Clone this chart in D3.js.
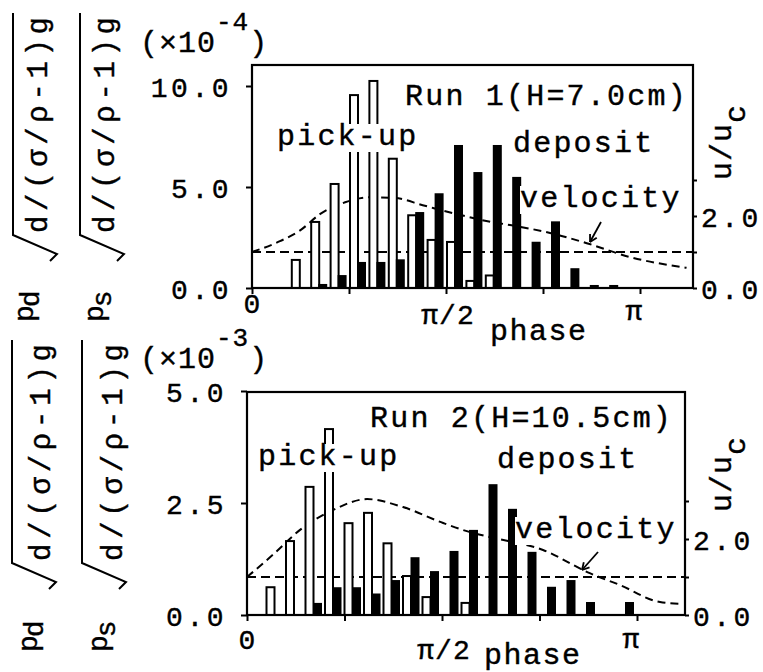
<!DOCTYPE html>
<html><head><meta charset="utf-8">
<script src="https://cdn.jsdelivr.net/npm/d3@7"></script>
<style>
body{margin:0;background:#fff}
svg{display:block}
text{font-family:"Liberation Mono","Courier New",monospace;fill:#000;stroke:#000;stroke-width:0.4}
</style>
</head><body>
<svg id="c" width="763" height="672"></svg>
<script>
// ---------- data ----------
// phase bins: phase = k/20 (in units of pi), k = 0..19
const binIndex = d3.range(20);
const run1Pickup  = [0, 0, 1.39, 3.27, 5.15, 9.55, 10.25, 6.4, 3.6, 2.38, 2.28, 0.35, 0.62, 0, 0, 0, 0, 0, 0, 0];
const run1Deposit = [0, 0, 0, 0.2, 0.64, 1.29, 1.29, 1.42, 3.76, 4.69, 7.08, 5.74, 7.08, 5.5, 2.29, 3.3, 0.98, 0.15, 0.15, 0];
const run2Pickup  = [0, 0.62, 1.65, 2.86, 4.15, 2.05, 2.28, 1.6, 0.87, 0.4, 0, 0.27, 0, 0, 0, 0, 0, 0, 0, 0];
const run2Deposit = [0, 0, 0, 0.27, 0.62, 0.62, 0.48, 0.78, 1.29, 0.98, 1.43, 1.9, 2.92, 2.37, 1.41, 0.63, 0.78, 0.29, 0, 0.29];
// velocity u/uc along phase (units of pi)
const run1VelPhase = [0, 0.072, 0.124, 0.175, 0.24, 0.304, 0.369, 0.44, 0.518, 0.619, 0.665, 0.79, 0.87, 0.974, 1.12];
const run1Vel      = [1.0, 1.3, 1.6, 2.05, 2.38, 2.52, 2.5, 2.3, 2.08, 1.83, 1.75, 1.47, 1.22, 0.86, 0.56];
const run2VelPhase = [0, 0.068, 0.136, 0.22, 0.308, 0.40, 0.503, 0.572, 0.623, 0.759, 0.879, 0.956, 1.059, 1.118];
const run2Vel      = [1.0, 1.6, 2.24, 2.76, 3.05, 2.84, 2.42, 2.18, 2.05, 1.71, 1.1, 0.79, 0.34, 0.29];
const criticalU = 1.0;
// ticks
const xTicks = [0, 0.25, 0.5, 0.75, 1];
const run1YTicks = [0, 5, 10];
const run1YLabels = ["0.0", "5.0", "10.0"];
const run2YTicks = [0, 2.5, 5];
const run2YLabels = ["0.0", "2.5", "5.0"];
const uTicks = [0, 1, 2, 3];
const uLabels = ["0.0", "", "2.0", ""];

const svg = d3.select("#c");

function knockoutText(g, x, y, str, opts = {}) {
  const t = g.append("text").attr("x", x).attr("y", y).text(str)
    .attr("font-size", opts.size || 30).attr("letter-spacing", opts.ls ?? 2.2);
  if (opts.bg) {
    const b = t.node().getBBox();
    g.insert("rect", () => t.node()).attr("x", b.x).attr("y", b.y + 4)
      .attr("width", b.width).attr("height", b.height - 6).attr("fill", "#fff");
  }
  return t;
}

function panel(o) {
  const g = svg.append("g");
  const x = d3.scaleLinear().domain([0, 1]).range([o.x0, o.xPi]);
  const y = d3.scaleLinear().domain([0, o.yMax]).range([o.yB, o.yMaxPx]);
  const yr = d3.scaleLinear().domain([0, 1]).range([o.yB, o.yB - o.uPx]);

  // critical velocity line
  g.append("line").attr("x1", o.x0).attr("x2", o.xR)
    .attr("y1", yr(criticalU)).attr("y2", yr(criticalU))
    .attr("stroke", "#000").attr("stroke-width", 2).attr("stroke-dasharray", "9,5");
  // velocity curve
  const pts = o.velPhase.map((p, i) => ({ p, u: o.vel[i] }));
  g.append("path")
    .attr("d", d3.line().x(d => x(d.p)).y(d => yr(d.u)).curve(d3.curveMonotoneX)(pts))
    .attr("fill", "none").attr("stroke", "#000").attr("stroke-width", 2)
    .attr("stroke-dasharray", "8,5");

  // pick-up (open) bars
  g.selectAll("rect.open").data(binIndex.filter(k => o.pick[k] > 0)).join("rect")
    .attr("class", "open")
    .attr("x", k => x(k / 20) + o.openOff).attr("width", 8)
    .attr("y", k => y(o.pick[k])).attr("height", k => o.yB - y(o.pick[k]))
    .attr("fill", "#fff").attr("stroke", "#000").attr("stroke-width", 2);
  // deposit (filled) bars
  g.selectAll("rect.fill").data(binIndex.filter(k => o.dep[k] > 0)).join("rect")
    .attr("class", "fill")
    .attr("x", k => x(k / 20) + o.fillOff).attr("width", 9)
    .attr("y", k => y(o.dep[k])).attr("height", k => o.yB - y(o.dep[k]))
    .attr("fill", "#000");

  // frame
  g.append("rect").attr("x", o.x0).attr("y", o.yT).attr("width", o.xR - o.x0)
    .attr("height", o.yB - o.yT).attr("fill", "none").attr("stroke", "#000").attr("stroke-width", 2.2);

  // axes ticks
  const ax = g.append("g").attr("transform", `translate(0,${o.yB})`)
    .call(d3.axisBottom(x).tickValues(xTicks).tickSize(6).tickFormat(""));
  ax.select(".domain").remove();
  const ay = g.append("g").attr("transform", `translate(${o.x0},0)`)
    .call(d3.axisLeft(y).tickValues(o.yTicks).tickSize(6).tickPadding(14)
      .tickFormat((d, i) => o.yLabels[i]));
  ay.select(".domain").remove();
  ay.selectAll("text").attr("font-size", 28).attr("letter-spacing", 3.5)
    .attr("font-family", '"Liberation Mono",monospace').attr("dy", "0.36em");
  const ar = g.append("g").attr("transform", `translate(${o.xR},0)`)
    .call(d3.axisRight(yr).tickValues(uTicks).tickSize(4).tickPadding(4)
      .tickFormat((d, i) => uLabels[i]));
  ar.select(".domain").remove();
  ar.selectAll("text").attr("font-size", 28).attr("letter-spacing", 3.5)
    .attr("font-family", '"Liberation Mono",monospace').attr("dy", "0.36em");
  g.selectAll(".tick line").attr("stroke-width", 2);

  // x labels
  g.append("text").attr("x", x(0)).attr("y", o.yB + o.lab0).attr("text-anchor", "middle")
    .attr("font-size", 28).text("0");
  g.append("text").attr("x", x(0.5) + 2).attr("y", o.yB + o.labHalf).attr("text-anchor", "middle")
    .attr("font-size", 28).attr("letter-spacing", 1).text("π/2");
  g.append("text").attr("x", x(1) - 6).attr("y", o.yB + o.labPi).attr("text-anchor", "middle")
    .attr("font-size", 28).text("π");
  g.append("text").attr("x", o.phaseX).attr("y", o.yB + o.labPhase)
    .attr("font-size", 30).attr("letter-spacing", 1.5).text("phase");

  // annotations
  knockoutText(g, o.runX, o.runY, o.runText, { bg: true });
  knockoutText(g, o.pickX, o.pickY, "pick-up", { bg: true });
  knockoutText(g, o.depX, o.depY, "deposit", {});
  knockoutText(g, o.velX, o.velY, "velocity", { bg: true });
  // arrow
  const [ax1, ay1, ax2, ay2] = o.arrow;
  g.append("line").attr("x1", ax1).attr("y1", ay1).attr("x2", ax2).attr("y2", ay2)
    .attr("stroke", "#000").attr("stroke-width", 1.8);
  const ang = Math.atan2(ay2 - ay1, ax2 - ax1);
  [0.5, -0.5].forEach(da => {
    g.append("line").attr("x1", ax2).attr("y1", ay2)
      .attr("x2", ax2 - 8 * Math.cos(ang + da)).attr("y2", ay2 - 8 * Math.sin(ang + da))
      .attr("stroke", "#000").attr("stroke-width", 1.8);
  });

  // scale factor label
  const sf = g.append("text").attr("x", 140).attr("y", o.sfY).attr("font-size", 30).attr("letter-spacing", 1);
  sf.append("tspan").text("(×10");
  sf.append("tspan").attr("dy", -22).attr("font-size", 26).text(o.sfExp);
  sf.append("tspan").attr("dy", 22).text(")");

  // right axis title u/uc
  const ut = g.append("text").attr("transform", `translate(${o.uX},${o.uY}) rotate(-90)`)
    .attr("font-size", 30).attr("letter-spacing", 1);
  ut.append("tspan").text("u/u");
  ut.append("tspan").attr("dy", 14).text("c");

  // left titles
  o.leftTitles.forEach(L => {
    g.append("path")
      .attr("d", `M${L.bar},${L.top} L${L.bar},${L.bot} L${L.bar + 44},${L.bot + 19} L${L.bar + 37},${L.bot + 26}`)
      .attr("fill", "none").attr("stroke", "#000").attr("stroke-width", 2);
    g.append("text").attr("transform", `translate(${L.base},${L.bot - 2}) rotate(-90)`)
      .attr("font-size", 29).attr("textLength", L.bot - L.top - 6).attr("lengthAdjust", "spacing")
      .text("d/(σ/ρ-1)g");
    const pt = g.append("text").attr("transform", `translate(${L.pBase},${L.pStart}) rotate(-90)`)
      .attr("font-size", 28);
    pt.append("tspan").text("p");
    pt.append("tspan").attr("dy", L.subDy).attr("dx", -2).text(L.sub);
  });
}

panel({
  x0: 252, xPi: 640, xR: 693, yT: 65, yB: 288, yMax: 10, yMaxPx: 86, uPx: 36,
  pick: run1Pickup, dep: run1Deposit, velPhase: run1VelPhase, vel: run1Vel,
  yTicks: run1YTicks, yLabels: run1YLabels, openOff: 1, fillOff: 8,
  lab0: 25, labHalf: 36, labPi: 32, labPhase: 52, phaseX: 490,
  runText: "Run 1(H=7.0cm)", runX: 405, runY: 105,
  pickX: 277, pickY: 145, depX: 513, depY: 152, velX: 520, velY: 207,
  arrow: [601, 222, 590, 242],
  sfY: 52, sfExp: "-4", uX: 731, uY: 180,
  leftTitles: [
    { bar: 13, top: 13, bot: 235, base: 47, pBase: 33, pStart: 322, sub: "d", subDy: 6 },
    { bar: 80, top: 13, bot: 235, base: 114, pBase: 103, pStart: 322, sub: "s", subDy: 8 }
  ]
});

panel({
  x0: 247, xPi: 637, xR: 685, yT: 392, yB: 615, yMax: 5, yMaxPx: 391, uPx: 38,
  pick: run2Pickup, dep: run2Deposit, velPhase: run2VelPhase, vel: run2Vel,
  yTicks: run2YTicks, yLabels: run2YLabels, openOff: 0, fillOff: 7.5,
  lab0: 34, labHalf: 44, labPi: 33, labPhase: 49, phaseX: 484,
  runText: "Run 2(H=10.5cm)", runX: 370, runY: 427,
  pickX: 258, pickY: 465, depX: 497, depY: 468, velX: 515, velY: 538,
  arrow: [598, 552, 582, 570],
  sfY: 368, sfExp: "-3", uX: 731, uY: 512,
  leftTitles: [
    { bar: 12, top: 340, bot: 563, base: 50, pBase: 37, pStart: 652, sub: "d", subDy: 6 },
    { bar: 82, top: 340, bot: 563, base: 122, pBase: 107, pStart: 652, sub: "s", subDy: 8 }
  ]
});
</script>
</body></html>
